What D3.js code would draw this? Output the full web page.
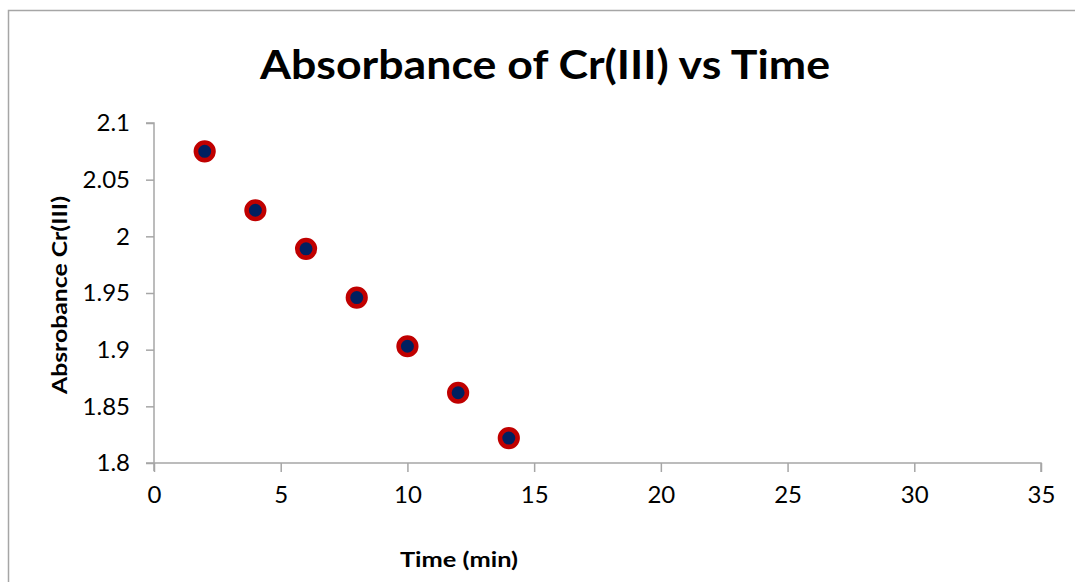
<!DOCTYPE html>
<html>
<head>
<meta charset="utf-8">
<script src="https://cdn.jsdelivr.net/npm/d3@7"></script>
<style>
  html, body { margin: 0; padding: 0; background: #fff; }
  svg { display: block; }
  text { font-family: Lato, "Open Sans", sans-serif; }
</style>
</head>
<body>
<svg id="chart" width="1075" height="582"></svg>
<script>
const timeMin = [2, 4, 6, 8, 10, 12, 14];
const absorbance = [2.075, 2.023, 1.989, 1.946, 1.903, 1.862, 1.822];
const xTicks = [0, 5, 10, 15, 20, 25, 30, 35];
const yTicks = [1.8, 1.85, 1.9, 1.95, 2, 2.05, 2.1];
const titleText = "Absorbance of Cr(III) vs Time";
const xTitle = "Time (min)";
const yTitle = "Absrobance Cr(III)";

const svg = d3.select("#chart");
const axisColor = "#a6a6a6";

// outer chart frame (right and bottom edges fall outside the view)
svg.append("rect")
  .attr("x", 8.5).attr("y", 10.5)
  .attr("width", 1120).attr("height", 620)
  .attr("fill", "#fff").attr("stroke", axisColor).attr("stroke-width", 1.5);

const x = d3.scaleLinear().domain([0, 35]).range([154, 1041]);
const y = d3.scaleLinear().domain([1.8, 2.1]).range([463, 123]);

// y axis
const yAxis = d3.axisLeft(y).tickValues(yTicks).tickSize(8).tickPadding(16)
  .tickFormat(d => d3.format("")(+d.toFixed(2)));
const gy = svg.append("g").attr("transform", `translate(${x(0)},0)`).call(yAxis);
gy.select(".domain").attr("stroke", axisColor).attr("stroke-width", 1.5)
  .attr("d", `M-8,${y(2.1)}H0V${y(1.8) + 8}`);
gy.selectAll(".tick line").attr("stroke", axisColor).attr("stroke-width", 1.5);
gy.selectAll(".tick text").attr("fill", "#000").style("font-size", "24px")
  .style("font-family", "Lato, sans-serif");

// x axis
const xAxis = d3.axisBottom(x).tickValues(xTicks).tickSize(9).tickPadding(14);
const gx = svg.append("g").attr("transform", `translate(0,${y(1.8)})`).call(xAxis);
gx.select(".domain").attr("stroke", axisColor).attr("stroke-width", 1.5)
  .attr("d", `M${x(0) - 8},0H${x(35)}V9`);
gx.selectAll(".tick line").attr("stroke", axisColor).attr("stroke-width", 1.5);
gx.selectAll(".tick text").attr("fill", "#000").style("font-size", "24px")
  .style("font-family", "Lato, sans-serif");

// points
svg.append("g").selectAll("circle")
  .data(timeMin.map((t, i) => ({t, a: absorbance[i]})))
  .join("circle")
  .attr("cx", d => x(d.t)).attr("cy", d => y(d.a))
  .attr("r", 8.8)
  .attr("fill", "#002060")
  .attr("stroke", "#c00000")
  .attr("stroke-width", 4.6);

// title
svg.append("text")
  .attr("x", 545).attr("y", 79)
  .attr("text-anchor", "middle")
  .attr("font-weight", "bold")
  .style("font-size", "40px")
  .attr("textLength", 570).attr("lengthAdjust", "spacingAndGlyphs")
  .text(titleText);

// x axis title
svg.append("text")
  .attr("x", 459).attr("y", 567)
  .attr("text-anchor", "middle")
  .attr("font-weight", "bold")
  .style("font-size", "20px")
  .attr("textLength", 118).attr("lengthAdjust", "spacingAndGlyphs")
  .text(xTitle);

// y axis title
svg.append("text")
  .attr("transform", "translate(67,295) rotate(-90)")
  .attr("text-anchor", "middle")
  .attr("font-weight", "bold")
  .style("font-size", "20px")
  .attr("textLength", 198).attr("lengthAdjust", "spacingAndGlyphs")
  .text(yTitle);
</script>
</body>
</html>
